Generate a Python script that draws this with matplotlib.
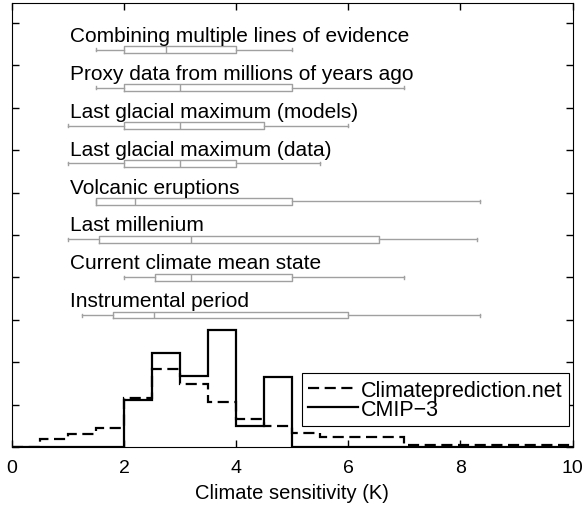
import numpy as np
import matplotlib
matplotlib.use("Agg")
import matplotlib.pyplot as plt

plt.rcParams['font.family'] = ['Liberation Sans', 'DejaVu Sans']

# histogram bins (0.5 K wide)
edges = np.arange(0, 10.01, 0.5)
cpdn = [0, 0.19, 0.31, 0.45, 1.15, 1.84, 1.49, 1.07, 0.66, 0.50,
        0.33, 0.23, 0.23, 0.23, 0.05, 0.05, 0.05, 0.05, 0.05, 0.05]
cmip3 = [0, 0, 0, 0, 1.10, 2.22, 1.67, 2.77, 0.50, 1.64,
         0, 0, 0, 0, 0, 0, 0, 0, 0, 0]

# box summaries, top to bottom: whisker lo, q1, median, q3, whisker hi
labels = ["Combining multiple lines of evidence",
          "Proxy data from millions of years ago",
          "Last glacial maximum (models)",
          "Last glacial maximum (data)",
          "Volcanic eruptions",
          "Last millenium",
          "Current climate mean state",
          "Instrumental period"]
wlo = [1.5, 1.5, 1.0, 1.0, 1.5, 1.0, 2.0, 1.25]
q1 = [2.0, 2.0, 2.0, 2.0, 1.5, 1.55, 2.55, 1.8]
med = [2.75, 3.0, 3.0, 3.0, 2.2, 3.2, 3.2, 2.53]
q3 = [4.0, 5.0, 4.5, 4.0, 5.0, 6.55, 5.0, 6.0]
whi = [5.0, 7.0, 6.0, 5.5, 8.35, 8.3, 7.0, 8.35]

fig = plt.figure(figsize=(5.86, 5.10), dpi=100)
ax = fig.add_axes([0.0205, 0.1216, 0.9565, 0.8706])

ax.stairs(cpdn, edges, color='black', lw=1.6, ls=(0, (5, 2.5)), label='Climateprediction.net')
ax.stairs(cmip3, edges, color='black', lw=1.6, label='CMIP\u22123')

ypos = 9.37 - 0.895 * np.arange(len(labels))
stats = []
for i in range(len(labels)):
    stats.append(dict(whislo=wlo[i], q1=q1[i], med=med[i], q3=q3[i], whishi=whi[i], fliers=[]))
gray = '#a0a0a0'
ax.bxp(stats, positions=ypos, vert=False, widths=0.15, capwidths=0.08, manage_ticks=False,
       boxprops=dict(color=gray, lw=1), medianprops=dict(color=gray, lw=1),
       whiskerprops=dict(color=gray, lw=1), capprops=dict(color=gray, lw=1))
for lab, y in zip(labels, ypos):
    ax.text(1.03, y + 0.21, lab, fontsize=15, va='baseline', ha='left')

ax.set_xlim(0, 10)
ax.set_ylim(0, 10.47)
ax.set_xticks([0, 2, 4, 6, 8, 10])
ax.set_yticks(np.arange(0, 11))
ax.set_yticklabels([])
ax.tick_params(direction='in', top=True, right=True, length=5, labelsize=14, width=1, pad=8.5)
ax.set_xlabel('Climate sensitivity (K)', fontsize=14.5, labelpad=5)

leg = ax.legend(loc='lower right', bbox_to_anchor=(0.9934, 0.047), fontsize=15.5, fancybox=False,
                framealpha=1, edgecolor='black', handlelength=2.3, borderpad=0.3,
                labelspacing=-0.1, handletextpad=0.15, borderaxespad=0)
leg.get_frame().set_linewidth(0.8)

fig.savefig('out.png', dpi=100)
